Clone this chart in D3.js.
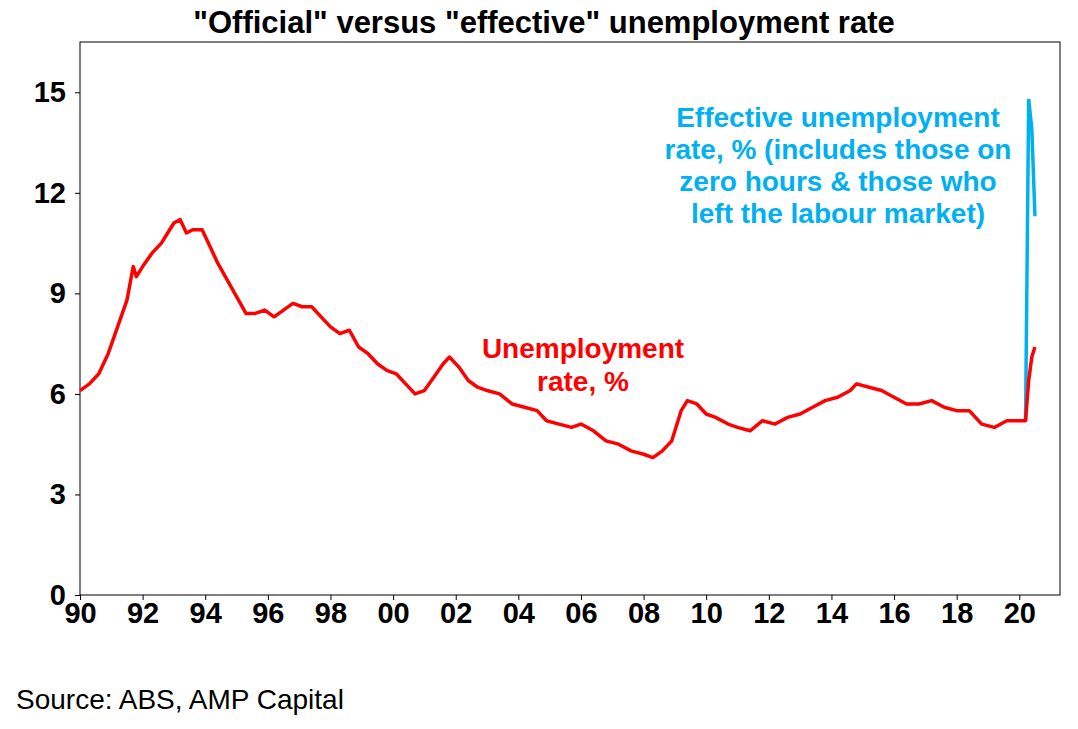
<!DOCTYPE html>
<html><head><meta charset="utf-8">
<script src="https://cdn.jsdelivr.net/npm/d3@7"></script>
<style>body{margin:0;background:#fff;font-family:Arial,"Liberation Sans",sans-serif;}</style>
</head><body><svg id="c" width="1078" height="729"></svg>
<script>
const officialYears = [1990.0,1990.3,1990.6,1990.9,1991.2,1991.5,1991.7,1991.8,1992.0,1992.3,1992.6,1992.8,1993.0,1993.2,1993.4,1993.6,1993.9,1994.1,1994.4,1994.7,1995.0,1995.3,1995.6,1995.9,1996.2,1996.5,1996.8,1997.1,1997.4,1997.7,1998.0,1998.3,1998.6,1998.9,1999.2,1999.5,1999.8,2000.1,2000.4,2000.7,2001.0,2001.3,2001.6,2001.8,2002.1,2002.4,2002.7,2003.0,2003.4,2003.8,2004.2,2004.6,2004.9,2005.3,2005.7,2006.0,2006.4,2006.8,2007.2,2007.6,2008.0,2008.3,2008.6,2008.9,2009.2,2009.4,2009.7,2010.0,2010.3,2010.7,2011.0,2011.4,2011.8,2012.2,2012.6,2013.0,2013.4,2013.8,2014.2,2014.6,2014.8,2015.2,2015.6,2016.0,2016.4,2016.8,2017.2,2017.6,2018.0,2018.4,2018.8,2019.2,2019.6,2020.0,2020.2,2020.3,2020.4,2020.5];
const officialRate = [6.1,6.3,6.6,7.2,8.0,8.8,9.8,9.5,9.8,10.2,10.5,10.8,11.1,11.2,10.8,10.9,10.9,10.5,9.9,9.4,8.9,8.4,8.4,8.5,8.3,8.5,8.7,8.6,8.6,8.3,8.0,7.8,7.9,7.4,7.2,6.9,6.7,6.6,6.3,6.0,6.1,6.5,6.9,7.1,6.8,6.4,6.2,6.1,6.0,5.7,5.6,5.5,5.2,5.1,5.0,5.1,4.9,4.6,4.5,4.3,4.2,4.1,4.3,4.6,5.5,5.8,5.7,5.4,5.3,5.1,5.0,4.9,5.2,5.1,5.3,5.4,5.6,5.8,5.9,6.1,6.3,6.2,6.1,5.9,5.7,5.7,5.8,5.6,5.5,5.5,5.1,5.0,5.2,5.2,5.2,6.4,7.1,7.4];
const effectiveYears = [2020.2,2020.3,2020.4,2020.5];
const effectiveRate = [5.2,14.8,13.9,11.3];
const yTicks = [0,3,6,9,12,15];
const xTickYears = d3.range(1990,2021,2);

const svg = d3.select("#c");
const m = {l:80,r:18,t:42,b:134};
const W = 1078, H = 729;
const x = d3.scaleLinear().domain([1990,2021.3]).range([m.l, W-m.r]);
const y = d3.scaleLinear().domain([0,16.5]).range([H-m.b, m.t]);
const y0 = y(0);

svg.append("text").attr("x",544).attr("y",33).attr("text-anchor","middle")
  .attr("font-size",31).attr("font-weight","bold").text('"Official" versus "effective" unemployment rate');
svg.append("rect").attr("x",m.l).attr("y",m.t).attr("width",W-m.r-m.l).attr("height",y0-m.t)
  .attr("fill","none").attr("stroke","#000").attr("stroke-width",1);

const ya = svg.append("g").attr("transform",`translate(${m.l},0)`)
  .call(d3.axisLeft(y).tickValues(yTicks).tickSize(5).tickFormat(d3.format("d")));
ya.select(".domain").remove();
ya.selectAll("text").attr("font-size",29).attr("font-weight","bold").attr("font-family","Arial,Liberation Sans").attr("fill","#000").attr("dx",-6);

const xa = svg.append("g").attr("transform",`translate(0,${y0})`)
  .call(d3.axisBottom(x).tickValues(xTickYears).tickSize(5).tickFormat(d=>String(d%100).padStart(2,"0")));
xa.select(".domain").remove();
xa.selectAll("text").attr("font-size",29).attr("font-weight","bold").attr("font-family","Arial,Liberation Sans").attr("fill","#000").attr("dy",20);

const line = d3.line().x(d=>x(d[0])).y(d=>y(d[1]));
svg.append("path").datum(effectiveYears.map((v,i)=>[v,effectiveRate[i]]))
  .attr("d",line).attr("fill","none").attr("stroke","#00b0f0").attr("stroke-width",3.5);
svg.append("path").datum(officialYears.map((v,i)=>[v,officialRate[i]]))
  .attr("d",line).attr("fill","none").attr("stroke","#ff0000").attr("stroke-width",3.5).attr("stroke-linejoin","round");

const red = svg.append("text").attr("text-anchor","middle").attr("fill","#ff0000").attr("font-size",28).attr("font-weight","bold");
red.append("tspan").attr("x",583).attr("y",358).text("Unemployment");
red.append("tspan").attr("x",583).attr("y",391).text("rate, %");

const blue = svg.append("text").attr("text-anchor","middle").attr("fill","#00b0f0").attr("font-size",28).attr("font-weight","bold");
["Effective unemployment","rate, % (includes those on","zero hours & those who","left the labour market)"]
  .forEach((t,i)=>blue.append("tspan").attr("x",838).attr("y",127+i*32).text(t));

svg.append("text").attr("x",16).attr("y",709).attr("font-size",28).text("Source: ABS, AMP Capital");
</script></body></html>
